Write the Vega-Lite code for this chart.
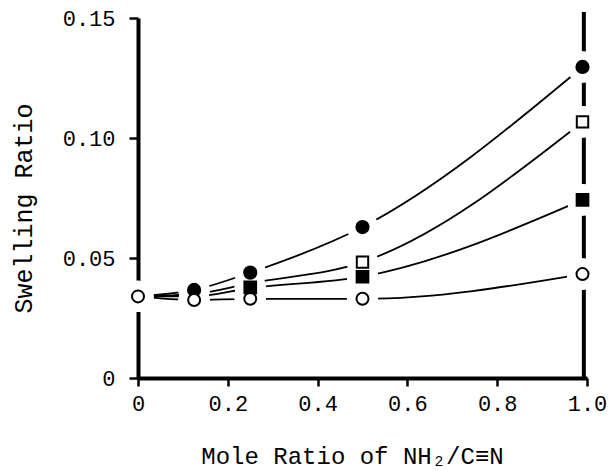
{
  "$schema": "https://vega.github.io/schema/vega-lite/v6.json",
  "width": 449,
  "height": 360,
  "autosize": {"type": "none"},
  "padding": {"left": 138, "top": 18, "right": 28, "bottom": 93},
  "background": "white",
  "config": {
    "view": {"stroke": null},
    "font": "Liberation Mono"
  },
  "datasets": {
    "curves": [
      {"series": "A", "ratio": 0, "swelling": 0.034},
      {"series": "A", "ratio": 0.125, "swelling": 0.0367},
      {"series": "A", "ratio": 0.25, "swelling": 0.0439},
      {"series": "A", "ratio": 0.5, "swelling": 0.0629},
      {"series": "A", "ratio": 0.99, "swelling": 0.1296},
      {"series": "B", "ratio": 0, "swelling": 0.034},
      {"series": "B", "ratio": 0.125, "swelling": 0.035},
      {"series": "B", "ratio": 0.25, "swelling": 0.0395},
      {"series": "B", "ratio": 0.5, "swelling": 0.0483},
      {"series": "B", "ratio": 0.99, "swelling": 0.1067},
      {"series": "C", "ratio": 0, "swelling": 0.034},
      {"series": "C", "ratio": 0.125, "swelling": 0.034},
      {"series": "C", "ratio": 0.25, "swelling": 0.0375},
      {"series": "C", "ratio": 0.5, "swelling": 0.0422},
      {"series": "C", "ratio": 0.99, "swelling": 0.0742},
      {"series": "D", "ratio": 0, "swelling": 0.034},
      {"series": "D", "ratio": 0.125, "swelling": 0.0325},
      {"series": "D", "ratio": 0.25, "swelling": 0.033},
      {"series": "D", "ratio": 0.5, "swelling": 0.033},
      {"series": "D", "ratio": 0.99, "swelling": 0.0433}
    ],
    "points": [
      {"marker": "open circle", "ratio": 0, "swelling": 0.034},
      {"marker": "filled circle", "ratio": 0.125, "swelling": 0.0367},
      {"marker": "open circle", "ratio": 0.125, "swelling": 0.0325},
      {"marker": "filled circle", "ratio": 0.25, "swelling": 0.0439},
      {"marker": "open circle", "ratio": 0.25, "swelling": 0.033},
      {"marker": "filled square", "ratio": 0.25, "swelling": 0.0378},
      {"marker": "filled circle", "ratio": 0.5, "swelling": 0.0629},
      {"marker": "open square", "ratio": 0.5, "swelling": 0.0483},
      {"marker": "filled square", "ratio": 0.5, "swelling": 0.0422},
      {"marker": "open circle", "ratio": 0.5, "swelling": 0.033},
      {"marker": "filled circle", "ratio": 0.99, "swelling": 0.1296},
      {"marker": "open square", "ratio": 0.99, "swelling": 0.1067},
      {"marker": "filled square", "ratio": 0.99, "swelling": 0.0742},
      {"marker": "open circle", "ratio": 0.99, "swelling": 0.0433}
    ],
    "border": [
      {"ratio": 0.993, "low": 0, "high": 0.1525}
    ]
  },
  "layer": [
    {
      "data": {"name": "border"},
      "mark": {"type": "rule", "stroke": "black", "strokeWidth": 4},
      "encoding": {
        "x": {"field": "ratio", "type": "quantitative"},
        "y": {"field": "low", "type": "quantitative"},
        "y2": {"field": "high"}
      }
    },
    {
      "data": {"name": "curves"},
      "mark": {"type": "line", "interpolate": "monotone", "stroke": "black", "strokeWidth": 1.8},
      "encoding": {
        "x": {
          "field": "ratio", "type": "quantitative",
          "scale": {"domain": [0, 1], "nice": false, "zero": false},
          "axis": {
            "values": [0, 0.2, 0.4, 0.6, 0.8, 1.0],
            "labelExpr": "datum.value == 0 ? '0' : format(datum.value, '.1f')",
            "grid": false,
            "domainColor": "black", "domainWidth": 4,
            "tickColor": "black", "tickWidth": 2.5, "tickSize": 8,
            "labelFont": "Liberation Mono", "labelFontSize": 22, "labelColor": "black",
            "labelPadding": 7, "labelFlush": false,
            "title": "Mole Ratio of NH₂/C≡N",
            "titleFont": "Liberation Mono", "titleFontSize": 24, "titleFontWeight": "normal", "titleColor": "black",
            "titleX": 214, "titleY": 85, "titleAnchor": "middle", "titleAlign": "center", "titleBaseline": "alphabetic"
          }
        },
        "y": {
          "field": "swelling", "type": "quantitative",
          "scale": {"domain": [0, 0.15], "nice": false, "zero": false},
          "axis": {
            "values": [0, 0.05, 0.1, 0.15],
            "labelExpr": "datum.value == 0 ? '0' : format(datum.value, '.2f')",
            "grid": false,
            "domainColor": "black", "domainWidth": 4,
            "tickColor": "black", "tickWidth": 2.5, "tickSize": 9,
            "labelFont": "Liberation Mono", "labelFontSize": 22, "labelColor": "black",
            "labelPadding": 14, "labelFlush": false,
            "title": "Swelling Ratio",
            "titleFont": "Liberation Mono", "titleFontSize": 25, "titleFontWeight": "normal", "titleColor": "black",
            "titleAngle": -90, "titleX": -115, "titleY": 190, "titleAlign": "center", "titleBaseline": "middle"
          }
        },
        "detail": {"field": "series", "type": "nominal"}
      }
    },
    {
      "data": {"name": "points"},
      "mark": {"type": "point", "shape": "circle", "filled": true, "fill": "white", "fillOpacity": 1, "stroke": "white", "strokeOpacity": 1, "strokeWidth": 2, "opacity": 1},
      "encoding": {
        "x": {"field": "ratio", "type": "quantitative"},
        "y": {"field": "swelling", "type": "quantitative"},
        "size": {"value": 850},
        "opacity": {"value": 1}
      }
    },
    {
      "data": {"name": "points"},
      "mark": {"type": "point", "shape": "circle", "filled": true, "fill": "white", "fillOpacity": 1, "stroke": "white", "strokeOpacity": 1, "strokeWidth": 2, "opacity": 1},
      "encoding": {
        "x": {"field": "ratio", "type": "quantitative"},
        "y": {"field": "swelling", "type": "quantitative"},
        "size": {"value": 850},
        "opacity": {"value": 1}
      }
    },
    {
      "data": {"name": "points"},
      "mark": {"type": "point", "shape": "circle", "filled": true, "fill": "white", "fillOpacity": 1, "stroke": "white", "strokeOpacity": 1, "strokeWidth": 2, "opacity": 1},
      "encoding": {
        "x": {"field": "ratio", "type": "quantitative"},
        "y": {"field": "swelling", "type": "quantitative"},
        "size": {"value": 850},
        "opacity": {"value": 1}
      }
    },
    {
      "data": {"name": "points"},
      "mark": {"type": "point", "opacity": 1, "stroke": "black", "strokeWidth": 2},
      "encoding": {
        "x": {"field": "ratio", "type": "quantitative"},
        "y": {"field": "swelling", "type": "quantitative"},
        "shape": {
          "field": "marker", "type": "nominal",
          "scale": {"domain": ["filled circle", "open circle", "filled square", "open square"], "range": ["circle", "circle", "square", "square"]},
          "legend": null
        },
        "fill": {
          "field": "marker", "type": "nominal",
          "scale": {"domain": ["filled circle", "open circle", "filled square", "open square"], "range": ["black", "white", "black", "white"]},
          "legend": null
        },
        "size": {
          "field": "marker", "type": "nominal",
          "scale": {"domain": ["filled circle", "open circle", "filled square", "open square"], "range": [150, 130, 160, 140]},
          "legend": null
        },
        "opacity": {"value": 1}
      }
    }
  ]
}
